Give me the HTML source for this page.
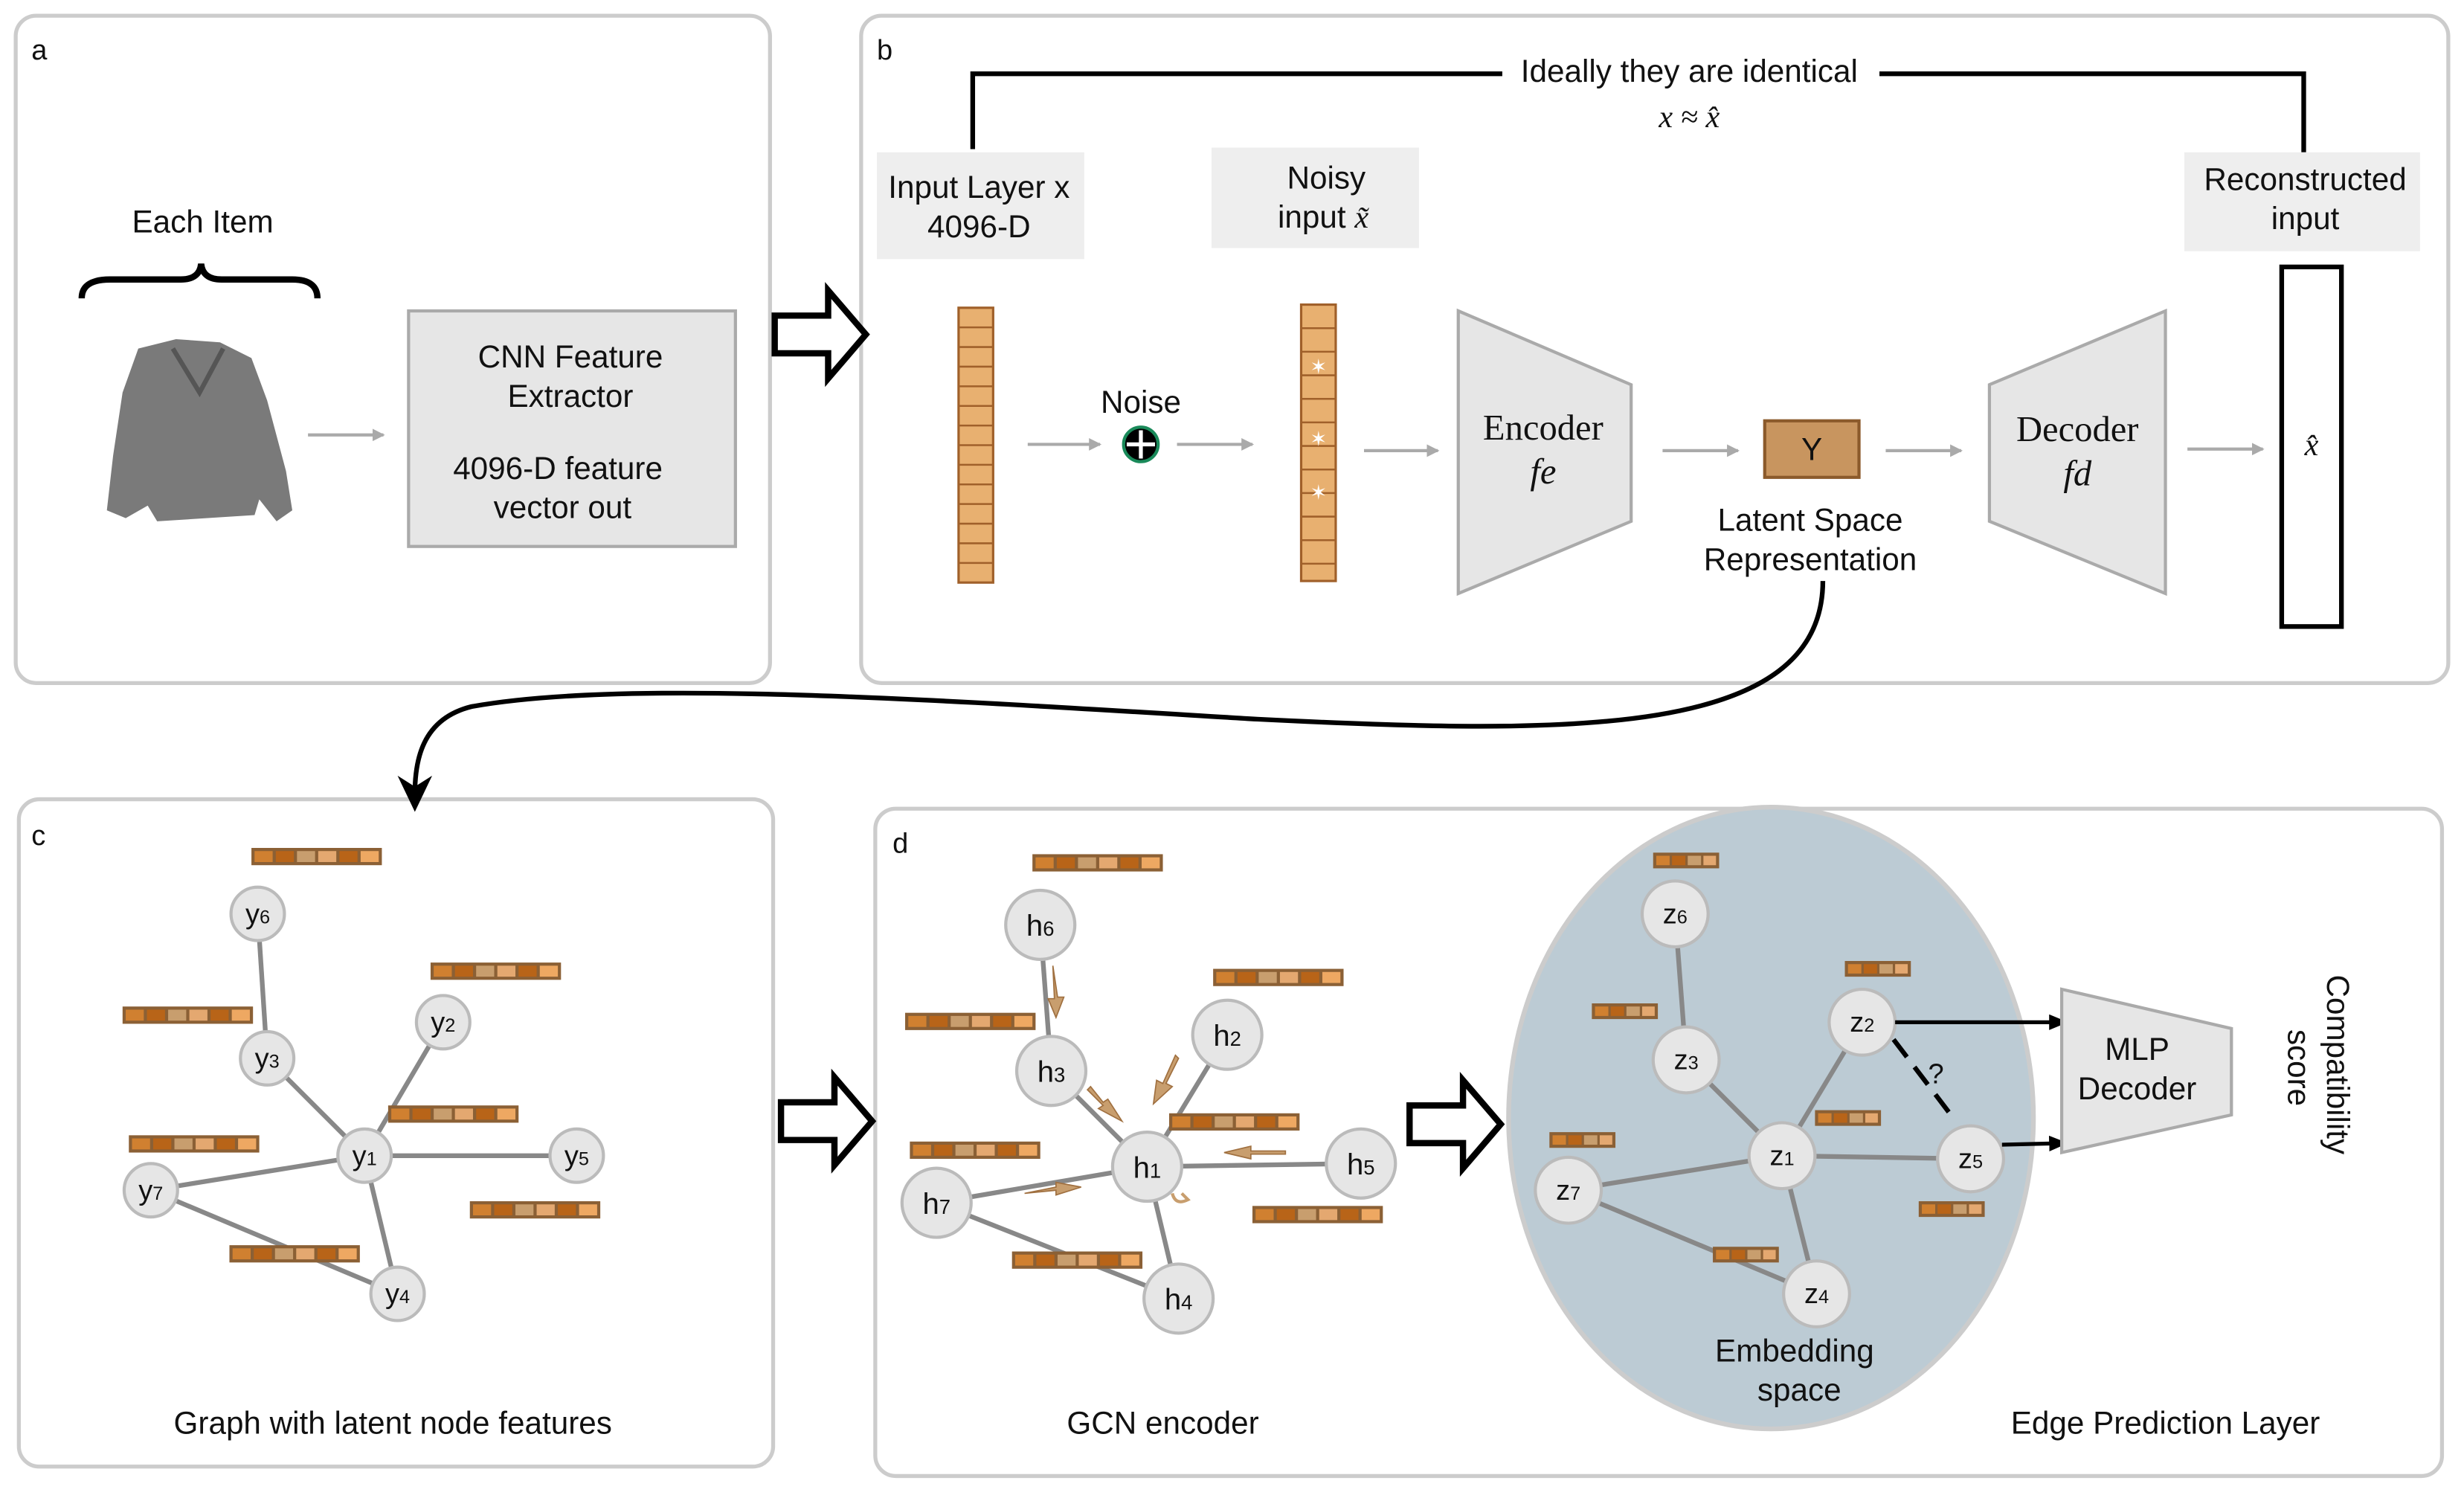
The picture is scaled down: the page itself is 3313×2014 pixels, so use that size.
<!DOCTYPE html>
<html><head><meta charset="utf-8"><style>
html,body{margin:0;padding:0;background:#fff}
svg{display:block}
text{font-family:"Liberation Sans",sans-serif;fill:#111}
.s{font-family:"Liberation Serif",serif}
</style></head><body>
<svg width="3313" height="2014" viewBox="0 0 1568 954" preserveAspectRatio="none" xmlns="http://www.w3.org/2000/svg">
<defs>
<marker id="ga" markerWidth="8" markerHeight="8" refX="7" refY="4" orient="auto" markerUnits="userSpaceOnUse"><path d="M0,0 L8,4 L0,8 z" fill="#aaa"/></marker>
<marker id="ka" markerWidth="12" markerHeight="10" refX="11" refY="5" orient="auto" markerUnits="userSpaceOnUse"><path d="M0,0 L12,5 L0,10 z" fill="#000"/></marker>
<g id="bar"><rect x="0" y="0" width="83" height="11" fill="#8b6035"/><rect x="2" y="2" width="11.5" height="7" fill="#d08030"/><rect x="15.5" y="2" width="11.5" height="7" fill="#b86418"/><rect x="29" y="2" width="11.5" height="7" fill="#c89e6e"/><rect x="42.5" y="2" width="11.5" height="7" fill="#e4a870"/><rect x="56" y="2" width="11.5" height="7" fill="#b86418"/><rect x="69.5" y="2" width="11.5" height="7" fill="#eea862"/></g>
<g id="sbar"><rect x="0" y="0" width="42" height="10" fill="#8b6035"/><rect x="2" y="2" width="8.5" height="6" fill="#d08030"/><rect x="12" y="2" width="8.5" height="6" fill="#b86418"/><rect x="22" y="2" width="8.5" height="6" fill="#c89e6e"/><rect x="32" y="2" width="8" height="6" fill="#e4a870"/></g>
<g id="harrow"><path d="M0,-12 H34 V-28 L58,0 L34,28 V12 H0 z" fill="#fff" stroke="#000" stroke-width="4"/></g>
</defs>
<g fill="none" stroke="#ccc" stroke-width="2.5">
<rect x="10" y="10" width="480" height="425" rx="13"/>
<rect x="548" y="10" width="1010" height="425" rx="13"/>
<rect x="12" y="509" width="480" height="425" rx="13"/>
<rect x="557" y="515" width="997" height="425" rx="13"/>
</g>
<g font-size="18"><text x="20" y="38">a</text><text x="558" y="38">b</text><text x="20" y="538">c</text><text x="568" y="543">d</text></g>
<!-- panel a -->
<text x="129" y="148" font-size="20" text-anchor="middle">Each Item</text>
<path d="M52,190 Q52,178 70,178 H115 Q127,178 128,168 Q129,178 141,178 H186 Q202,178 202,190" fill="none" stroke="#000" stroke-width="4"/>
<path d="M88,222 L112,216 L140,218 L160,228 L170,255 L182,300 L186,325 L176,332 L165,318 L162,328 L100,332 L94,322 L80,330 L68,325 L72,290 L78,250 Z" fill="#7a7a7a"/>
<path d="M110,222 L127,250 L142,222" fill="none" stroke="#555" stroke-width="3"/>
<line x1="196" y1="277" x2="244" y2="277" stroke="#aaa" stroke-width="2" marker-end="url(#ga)"/>
<rect x="260" y="198" width="208" height="150" fill="#e6e6e6" stroke="#aaa" stroke-width="2"/>
<g font-size="20" text-anchor="middle"><text x="363" y="234">CNN Feature</text><text x="363" y="259">Extractor</text><text x="355" y="305">4096-D feature</text><text x="358" y="330">vector out</text></g>
<use href="#harrow" x="493" y="213"/>
<!-- panel b -->
<path d="M619,95 V47 H956 M1196,47 H1466 V97" fill="none" stroke="#000" stroke-width="3"/>
<text x="1075" y="52" font-size="20" text-anchor="middle">Ideally they are identical</text>
<text x="1075" y="81" font-size="20" text-anchor="middle" class="s" font-style="italic">x ≈ x̂</text>
<rect x="558" y="97" width="132" height="68" fill="#eee"/>
<rect x="771" y="94" width="132" height="64" fill="#eee"/>
<rect x="1390" y="97" width="150" height="63" fill="#eee"/>
<g font-size="20" text-anchor="middle">
<text x="623" y="126">Input Layer x</text><text x="623" y="151">4096-D</text>
<text x="844" y="120">Noisy</text><text x="842" y="145">input <tspan class="s" font-style="italic">x̃</tspan></text>
<text x="1467" y="121">Reconstructed</text><text x="1467" y="146">input</text>
</g>
<g fill="#e8b070" stroke="#a0602a" stroke-width="1.5">
<rect x="610" y="196" width="22" height="175"/><rect x="828" y="194" width="22" height="176"/>
</g>
<g stroke="#a0602a" stroke-width="1.2">
<path d="M610,208.5h22M610,221h22M610,233.5h22M610,246h22M610,258.5h22M610,271h22M610,283.5h22M610,296h22M610,308.5h22M610,321h22M610,333.5h22M610,346h22M610,358.5h22"/>
<path d="M828,209h22M828,224h22M828,239h22M828,254h22M828,269h22M828,284h22M828,299h22M828,314h22M828,329h22M828,344h22M828,359h22"/>
</g>
<g fill="#fff" font-size="13" text-anchor="middle"><text x="839" y="238" style="fill:#fff">✶</text><text x="839" y="284" style="fill:#fff">✶</text><text x="839" y="318" style="fill:#fff">✶</text></g>
<g stroke="#aaa" stroke-width="2" marker-end="url(#ga)">
<line x1="654" y1="283" x2="700" y2="283"/><line x1="749" y1="283" x2="797" y2="283"/><line x1="868" y1="287" x2="915" y2="287"/>
<line x1="1058" y1="287" x2="1106" y2="287"/><line x1="1200" y1="287" x2="1248" y2="287"/><line x1="1392" y1="286" x2="1440" y2="286"/>
</g>
<text x="726" y="263" font-size="20" text-anchor="middle">Noise</text>
<circle cx="726" cy="283" r="11" fill="#000" stroke="#1a8a5a" stroke-width="2"/>
<path d="M726,274V292M717,283H735" stroke="#fff" stroke-width="2.5"/>
<path d="M928,198 L1038,245 L1038,332 L928,378 Z" fill="#e6e6e6" stroke="#aaa" stroke-width="2"/>
<path d="M1266,245 L1378,198 L1378,378 L1266,332 Z" fill="#e6e6e6" stroke="#aaa" stroke-width="2"/>
<g font-size="23" text-anchor="middle" class="s"><text x="982" y="280" class="s">Encoder</text><text x="982" y="308" class="s" font-style="italic">fe</text><text x="1322" y="281" class="s">Decoder</text><text x="1322" y="309" class="s" font-style="italic">fd</text></g>
<rect x="1123" y="268" width="60" height="36" fill="#c8955f" stroke="#8b5a2b" stroke-width="2"/>
<text x="1153" y="293" font-size="20" text-anchor="middle">Y</text>
<g font-size="20" text-anchor="middle"><text x="1152" y="338">Latent Space</text><text x="1152" y="363">Representation</text></g>
<rect x="1452" y="170" width="38" height="229" fill="#fff" stroke="#000" stroke-width="3"/>
<text x="1471" y="290" font-size="20" text-anchor="middle" class="s" font-style="italic">x̂</text>
<path d="M1160,370 C1160,470 1000,468 800,458 C 600,446 400,432 300,450 C 268,458 264,485 264,506" fill="none" stroke="#000" stroke-width="3"/>
<path d="M253,494 L264,517 L275,494 L264,501 Z" fill="#000"/>
<!-- panel c -->
<g stroke="#888" stroke-width="3">
<line x1="164" y1="582" x2="170" y2="674"/><line x1="170" y1="674" x2="232" y2="736"/><line x1="282" y1="651" x2="232" y2="736"/>
<line x1="232" y1="736" x2="96" y2="758"/><line x1="232" y1="736" x2="367" y2="736"/><line x1="232" y1="736" x2="253" y2="824"/><line x1="96" y1="758" x2="253" y2="824"/>
</g>
<use href="#bar" x="160" y="540"/><use href="#bar" x="274" y="613"/><use href="#bar" x="78" y="641"/><use href="#bar" x="247" y="704"/><use href="#bar" x="82" y="723"/><use href="#bar" x="299" y="765"/><use href="#bar" x="146" y="793"/>
<g fill="#e6e6e6" stroke="#bbb" stroke-width="2">
<circle cx="164" cy="582" r="17"/><circle cx="170" cy="674" r="17"/><circle cx="282" cy="651" r="17"/><circle cx="232" cy="736" r="17"/><circle cx="367" cy="736" r="17"/><circle cx="96" cy="758" r="17"/><circle cx="253" cy="824" r="17"/>
</g>
<g font-size="18" text-anchor="middle">
<text x="164" y="588">y<tspan font-size="12">6</tspan></text><text x="170" y="680">y<tspan font-size="12">3</tspan></text><text x="282" y="657">y<tspan font-size="12">2</tspan></text><text x="232" y="742">y<tspan font-size="12">1</tspan></text><text x="367" y="742">y<tspan font-size="12">5</tspan></text><text x="96" y="764">y<tspan font-size="12">7</tspan></text><text x="253" y="830">y<tspan font-size="12">4</tspan></text>
</g>
<text x="250" y="913" font-size="20" text-anchor="middle">Graph with latent node features</text>
<use href="#harrow" x="497" y="714"/>
<!-- panel d -->
<g stroke="#888" stroke-width="3">
<line x1="662" y1="589" x2="669" y2="682"/><line x1="669" y1="682" x2="730" y2="743"/><line x1="781" y1="659" x2="730" y2="743"/>
<line x1="730" y1="743" x2="596" y2="766"/><line x1="730" y1="743" x2="866" y2="741"/><line x1="730" y1="743" x2="750" y2="827"/><line x1="596" y1="766" x2="750" y2="827"/>
</g>
<use href="#bar" x="657" y="544"/><use href="#bar" x="772" y="617"/><use href="#bar" x="576" y="645"/><use href="#bar" x="744" y="709"/><use href="#bar" x="579" y="727"/><use href="#bar" x="797" y="768"/><use href="#bar" x="644" y="797"/>
<g fill="#c89e6e" stroke="#a07040" stroke-width="0.8">
<path d="M670,615 L673,635 L677,635 L672,648 L667,636 L671,636 Z"/>
<path d="M750,674 L742,690 L746,692 L734,703 L736,688 L740,690 L748,672 Z"/>
<path d="M818,733 L796,733 L796,730 L779,734 L796,738 L796,735 L818,735 Z"/>
<path d="M652,760 L672,756 L672,753 L688,756 L672,761 L672,758 Z"/>
<path d="M692,694 L702,704 L699,706 L714,714 L705,700 L702,702 L694,692 Z"/>
<path d="M746,760 Q748,768 756,764 L752,760" fill="none" stroke="#c89e6e" stroke-width="2"/>
</g>
<g fill="#e6e6e6" stroke="#bbb" stroke-width="2">
<circle cx="662" cy="589" r="22"/><circle cx="669" cy="682" r="22"/><circle cx="781" cy="659" r="22"/><circle cx="730" cy="743" r="22"/><circle cx="866" cy="741" r="22"/><circle cx="596" cy="766" r="22"/><circle cx="750" cy="827" r="22"/>
</g>
<g font-size="19" text-anchor="middle">
<text x="662" y="596">h<tspan font-size="13">6</tspan></text><text x="669" y="689">h<tspan font-size="13">3</tspan></text><text x="781" y="666">h<tspan font-size="13">2</tspan></text><text x="730" y="750">h<tspan font-size="13">1</tspan></text><text x="866" y="748">h<tspan font-size="13">5</tspan></text><text x="596" y="773">h<tspan font-size="13">7</tspan></text><text x="750" y="834">h<tspan font-size="13">4</tspan></text>
</g>
<text x="740" y="913" font-size="20" text-anchor="middle">GCN encoder</text>
<use href="#harrow" x="897" y="716"/>
<ellipse cx="1127" cy="712" rx="167" ry="198" fill="#bccbd4" stroke="#ccc" stroke-width="3"/>
<g stroke="#888" stroke-width="3">
<line x1="1066" y1="582" x2="1073" y2="675"/><line x1="1073" y1="675" x2="1134" y2="736"/><line x1="1185" y1="651" x2="1134" y2="736"/>
<line x1="1134" y1="736" x2="998" y2="758"/><line x1="1134" y1="736" x2="1254" y2="738"/><line x1="1134" y1="736" x2="1156" y2="824"/><line x1="998" y1="758" x2="1156" y2="824"/>
</g>
<use href="#sbar" x="1052" y="543"/><use href="#sbar" x="1174" y="612"/><use href="#sbar" x="1013" y="639"/><use href="#sbar" x="1155" y="707"/><use href="#sbar" x="986" y="721"/><use href="#sbar" x="1221" y="765"/><use href="#sbar" x="1090" y="794"/>
<line x1="1205" y1="662" x2="1243" y2="712" stroke="#000" stroke-width="3" stroke-dasharray="14,8"/>
<text x="1232" y="690" font-size="18" text-anchor="middle">?</text>
<g fill="#e6e6e6" stroke="#bbb" stroke-width="2">
<circle cx="1066" cy="582" r="21"/><circle cx="1073" cy="675" r="21"/><circle cx="1185" cy="651" r="21"/><circle cx="1134" cy="736" r="21"/><circle cx="1254" cy="738" r="21"/><circle cx="998" cy="758" r="21"/><circle cx="1156" cy="824" r="21"/>
</g>
<g font-size="18" text-anchor="middle">
<text x="1066" y="588">z<tspan font-size="12">6</tspan></text><text x="1073" y="681">z<tspan font-size="12">3</tspan></text><text x="1185" y="657">z<tspan font-size="12">2</tspan></text><text x="1134" y="742">z<tspan font-size="12">1</tspan></text><text x="1254" y="744">z<tspan font-size="12">5</tspan></text><text x="998" y="764">z<tspan font-size="12">7</tspan></text><text x="1156" y="830">z<tspan font-size="12">4</tspan></text>
</g>
<g font-size="20" text-anchor="middle"><text x="1142" y="867">Embedding</text><text x="1145" y="892">space</text></g>
<g stroke="#000" stroke-width="2.5" marker-end="url(#ka)"><line x1="1206" y1="651" x2="1315" y2="651"/><line x1="1274" y1="729" x2="1315" y2="728"/></g>
<path d="M1312,630 L1420,655 L1420,710 L1312,734 Z" fill="#e6e6e6" stroke="#aaa" stroke-width="2"/>
<g font-size="20" text-anchor="middle"><text x="1360" y="675">MLP</text><text x="1360" y="700">Decoder</text></g>
<text transform="translate(1481,678) rotate(90)" font-size="20" text-anchor="middle">Compatibility</text>
<text transform="translate(1456,680) rotate(90)" font-size="20" text-anchor="middle">score</text>
<text x="1378" y="913" font-size="20" text-anchor="middle">Edge Prediction Layer</text>
</svg>
</body></html>
